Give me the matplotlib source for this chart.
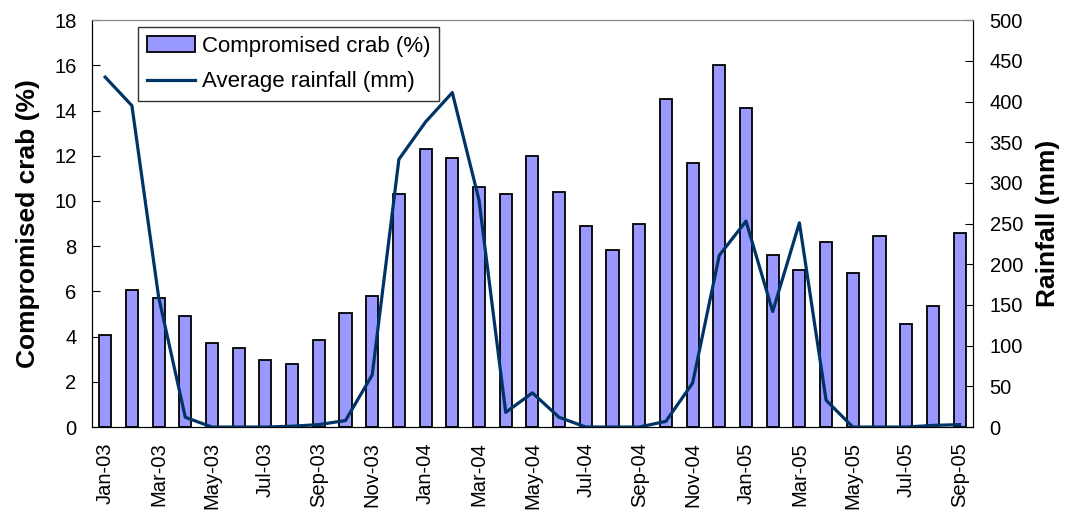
import numpy as np
import matplotlib
matplotlib.use("Agg")
import matplotlib.pyplot as plt

plt.rcParams['font.family'] = ['Liberation Sans', 'DejaVu Sans']

# monthly data, Jan-03 .. Sep-05
months = ['Jan-03', 'Feb-03', 'Mar-03', 'Apr-03', 'May-03', 'Jun-03', 'Jul-03', 'Aug-03',
          'Sep-03', 'Oct-03', 'Nov-03', 'Dec-03', 'Jan-04', 'Feb-04', 'Mar-04', 'Apr-04',
          'May-04', 'Jun-04', 'Jul-04', 'Aug-04', 'Sep-04', 'Oct-04', 'Nov-04', 'Dec-04',
          'Jan-05', 'Feb-05', 'Mar-05', 'Apr-05', 'May-05', 'Jun-05', 'Jul-05', 'Aug-05',
          'Sep-05']
crab_pct = [4.05, 6.05, 5.7, 4.9, 3.7, 3.5, 2.95, 2.8, 3.85, 5.05, 5.8, 10.3,
            12.3, 11.9, 10.6, 10.3, 12.0, 10.4, 8.9, 7.85, 9.0, 14.5, 11.7, 16.0,
            14.1, 7.6, 6.95, 8.2, 6.8, 8.45, 4.55, 5.35, 8.6]
rainfall_mm = [430, 395, 160, 12, 0, 0, 0, 1, 3, 8, 64, 329,
               375, 411, 279, 18, 42, 12, 0, 0, 0, 7, 54, 211,
               253, 142, 251, 33, 0, 0, 0, 2, 3]

x = np.arange(len(months))

fig = plt.figure(figsize=(10.68, 5.17), dpi=100)
ax = fig.add_axes([0.086, 0.174, 0.825, 0.787])
ax2 = ax.twinx()

bars = ax.bar(x, crab_pct, width=0.45, color='#9999FF', edgecolor='black',
              linewidth=1.3, label='Compromised crab (%)', zorder=2)
line, = ax2.plot(x, rainfall_mm, color='#003366', linewidth=2.3,
                 label='Average rainfall (mm)', zorder=3)

ax.set_xlim(-0.5, len(months) - 0.5)
ax.set_ylim(0, 18)
ax.set_yticks(np.arange(0, 19, 2))
ax2.set_ylim(0, 500)
ax2.set_yticks(np.arange(0, 501, 50))

ax.set_xticks(x[::2])
ax.set_xticklabels(months[::2], rotation=90, fontsize=14.5)
ax.tick_params(axis='x', length=0, pad=11)
ax.tick_params(axis='y', direction='in', labelsize=14.5, length=6, pad=11)
ax2.tick_params(axis='y', direction='in', labelsize=14.5, length=6, pad=12)

ax.set_ylabel('Compromised crab (%)', fontsize=19, fontweight='bold')
ax2.set_ylabel('Rainfall (mm)', fontsize=19, fontweight='bold', rotation=90)
ax.yaxis.set_label_coords(-0.059, 0.5)
ax2.yaxis.set_label_coords(1.072, 0.5)

for a in (ax, ax2):
    a.spines['top'].set_color('#888888')
ax2.set_zorder(ax.get_zorder() + 1)
ax2.patch.set_visible(False)

leg = ax2.legend([bars, line], ['Compromised crab (%)', 'Average rainfall (mm)'],
                 loc='upper left', bbox_to_anchor=(0.052, 0.983), fontsize=16,
                 frameon=True, fancybox=False, edgecolor='black',
                 handlelength=2.2, handletextpad=0.3, borderpad=0.4,
                 labelspacing=0.65, borderaxespad=0)
leg.get_frame().set_linewidth(1.0)

fig.savefig('out.png', dpi=100)
